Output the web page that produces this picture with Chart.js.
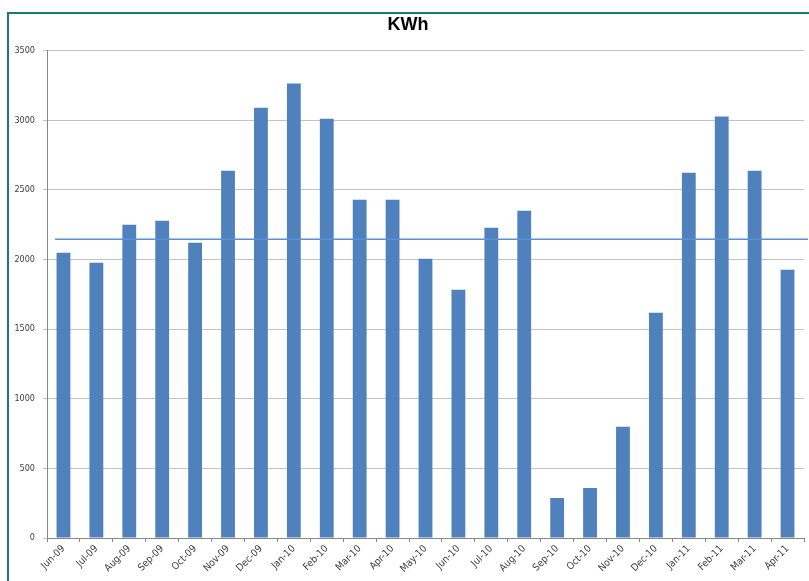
<!DOCTYPE html>
<html>
<head>
<meta charset="utf-8">
<script src="https://cdn.jsdelivr.net/npm/chart.js@4"></script>
<style>
  body { margin: 0; background: #fff; }
  #wrap { position: relative; width: 809px; height: 581px; }
  #frame { position: absolute; left: 7px; top: 12px; right: 0; bottom: 0;
           border-left: 2px solid #1b7b6b; border-top: 2px solid #1b7b6b; }
  #chart { position: absolute; left: 0; top: 0; }
</style>
</head>
<body>
<div id="wrap">
  <div id="frame"></div>
  <canvas id="chart" width="809" height="581"></canvas>
</div>
<script>
const months = ['Jun-09', 'Jul-09', 'Aug-09', 'Sep-09', 'Oct-09', 'Nov-09', 'Dec-09', 'Jan-10',
  'Feb-10', 'Mar-10', 'Apr-10', 'May-10', 'Jun-10', 'Jul-10', 'Aug-10', 'Sep-10', 'Oct-10',
  'Nov-10', 'Dec-10', 'Jan-11', 'Feb-11', 'Mar-11', 'Apr-11'];
const kwh = [2048, 1976, 2250, 2278, 2120, 2638, 3090, 3263, 3011, 2429, 2429, 2005,
  1782, 2228, 2350, 287, 359, 798, 1617, 2623, 3026, 2638, 1926];
const averageKwh = 2145;
const yTicks = [0, 500, 1000, 1500, 2000, 2500, 3000, 3500];

const labelFont = "'Liberation Sans Narrow', 'DejaVu Sans Condensed', sans-serif";

// thin horizontal average line, drawn over the bars
const averageLine = {
  id: 'averageLine',
  afterDatasetsDraw(chart) {
    const ctx = chart.ctx;
    const y = chart.scales.y.getPixelForValue(averageKwh);
    ctx.save();
    ctx.strokeStyle = '#5b8fd6';
    ctx.lineWidth = 1.5;
    ctx.beginPath();
    ctx.moveTo(chart.chartArea.left + 8, y);
    ctx.lineTo(chart.width - 1, y);
    ctx.stroke();
    ctx.restore();
  }
};

new Chart(document.getElementById('chart').getContext('2d'), {
  type: 'bar',
  data: {
    labels: months,
    datasets: [{
      label: 'KWh',
      data: kwh,
      backgroundColor: '#4f81bd',
      borderWidth: 0,
      barPercentage: 0.42,
      categoryPercentage: 1
    }]
  },
  options: {
    responsive: false,
    animation: false,
    layout: { padding: { left: 12, right: 5, top: 12, bottom: 0 } },
    plugins: {
      legend: { display: false },
      tooltip: { enabled: false },
      title: {
        display: true,
        text: 'KWh',
        color: '#000',
        font: { family: "'Liberation Sans', sans-serif", size: 18, weight: 'bold' },
        padding: { top: 2, bottom: 15 }
      }
    },
    scales: {
      x: {
        grid: { drawOnChartArea: false, drawTicks: true, tickLength: 4, color: '#868686' },
        border: { color: '#868686' },
        ticks: {
          minRotation: 45, maxRotation: 45, autoSkip: false,
          color: '#404040', font: { family: labelFont, size: 10 }, padding: 1
        },
        afterFit(scale) { scale.height = 43; }
      },
      y: {
        min: 0, max: 3500,
        afterBuildTicks(scale) { scale.ticks = yTicks.map(v => ({ value: v })); },
        grid: { color: '#c3c3c3', tickLength: 4 },
        border: { color: '#868686' },
        ticks: {
          color: '#404040', font: { family: labelFont, size: 9 }, padding: 8,
          callback: v => String(v)
        },
        afterFit(scale) { scale.width = 35; }
      }
    }
  },
  plugins: [averageLine]
});
</script>
</body>
</html>
